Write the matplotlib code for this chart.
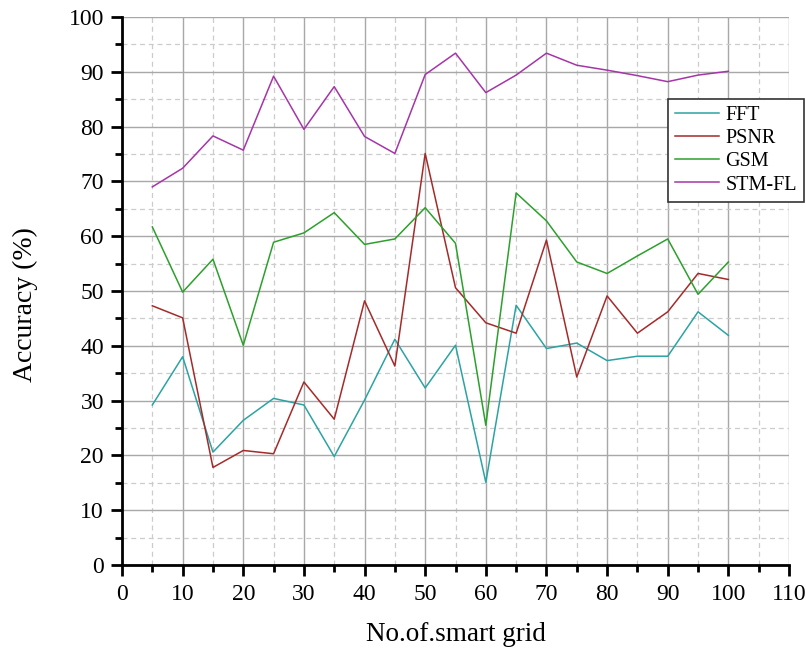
import numpy as np
import matplotlib.pyplot as plt
from matplotlib.ticker import MultipleLocator

plt.rcParams['font.family'] = ['Liberation Serif', 'DejaVu Serif']

#%% data
grid_counts = [5, 10, 15, 20, 25, 30, 35, 40, 45, 50,
               55, 60, 65, 70, 75, 80, 85, 90, 95, 100]
fft = [29.2, 38.0, 20.6, 26.4, 30.4, 29.2, 19.8, 30.1, 41.2, 32.3,
       40.1, 15.1, 47.4, 39.5, 40.5, 37.3, 38.1, 38.1, 46.2, 41.9]
psnr = [47.3, 45.1, 17.8, 20.9, 20.3, 33.4, 26.6, 48.2, 36.3, 75.1,
        50.6, 44.2, 42.3, 59.3, 34.3, 49.1, 42.3, 46.2, 53.2, 52.1]
gsm = [61.7, 49.8, 55.8, 40.1, 58.9, 60.6, 64.3, 58.5, 59.5, 65.2,
       58.7, 25.5, 67.9, 62.8, 55.3, 53.2, 56.4, 59.5, 49.4, 55.3]
stm_fl = [69.0, 72.4, 78.3, 75.7, 89.2, 79.5, 87.3, 78.2, 75.1, 89.5,
          93.4, 86.2, 89.4, 93.4, 91.2, 90.3, 89.3, 88.2, 89.4, 90.1]

names = ['FFT', 'PSNR', 'GSM', 'STM-FL']
colors = ['#2ca3a3', '#a52a2a', '#2ca02c', '#a535a8']

#%% figure
fig = plt.figure(figsize=(8.06, 6.52), dpi=100)
ax = fig.add_axes([122/806, 1-565/652, (789-122)/806, (565-17)/652])

for vals, name, c in zip([fft, psnr, gsm, stm_fl], names, colors):
    ax.plot(grid_counts, vals, color=c, linewidth=1.1, label=name)

ax.set_xlim(0, 110)
ax.set_ylim(0, 100)
ax.xaxis.set_major_locator(MultipleLocator(10))
ax.xaxis.set_minor_locator(MultipleLocator(5))
ax.yaxis.set_major_locator(MultipleLocator(10))
ax.yaxis.set_minor_locator(MultipleLocator(5))

ax.grid(True, which='major', color='#a8a8a8', linestyle='-', linewidth=1.0)
ax.grid(True, which='minor', color='#cccccc', linestyle=(0, (4, 3)), linewidth=0.9)
ax.set_axisbelow(True)

for s in ['top', 'right']:
    ax.spines[s].set_visible(False)
for s in ['left', 'bottom']:
    ax.spines[s].set_linewidth(2)
    ax.spines[s].set_color('black')

ax.tick_params(which='major', direction='out', length=8, width=2, labelsize=17)
ax.tick_params(axis='x', which='major', pad=6)
ax.tick_params(axis='y', which='major', pad=5)
ax.tick_params(which='minor', direction='out', length=5, width=2)

ax.set_xlabel('No.of.smart grid', fontsize=19.5, labelpad=12)
ax.set_ylabel('Accuracy (%)', fontsize=20, labelpad=22)
ax.yaxis.label.set_y(0.476)

leg = fig.legend(loc='upper left', bbox_to_anchor=(668/806, 1-99/652),
                 fontsize=14.5, frameon=True, fancybox=False, framealpha=1,
                 handlelength=2.2, borderpad=0.35, labelspacing=0.2,
                 handletextpad=0.3, borderaxespad=0)
leg.get_frame().set_edgecolor('#333333')
leg.get_frame().set_linewidth(1.2)

fig.savefig('out.png', dpi=100)
